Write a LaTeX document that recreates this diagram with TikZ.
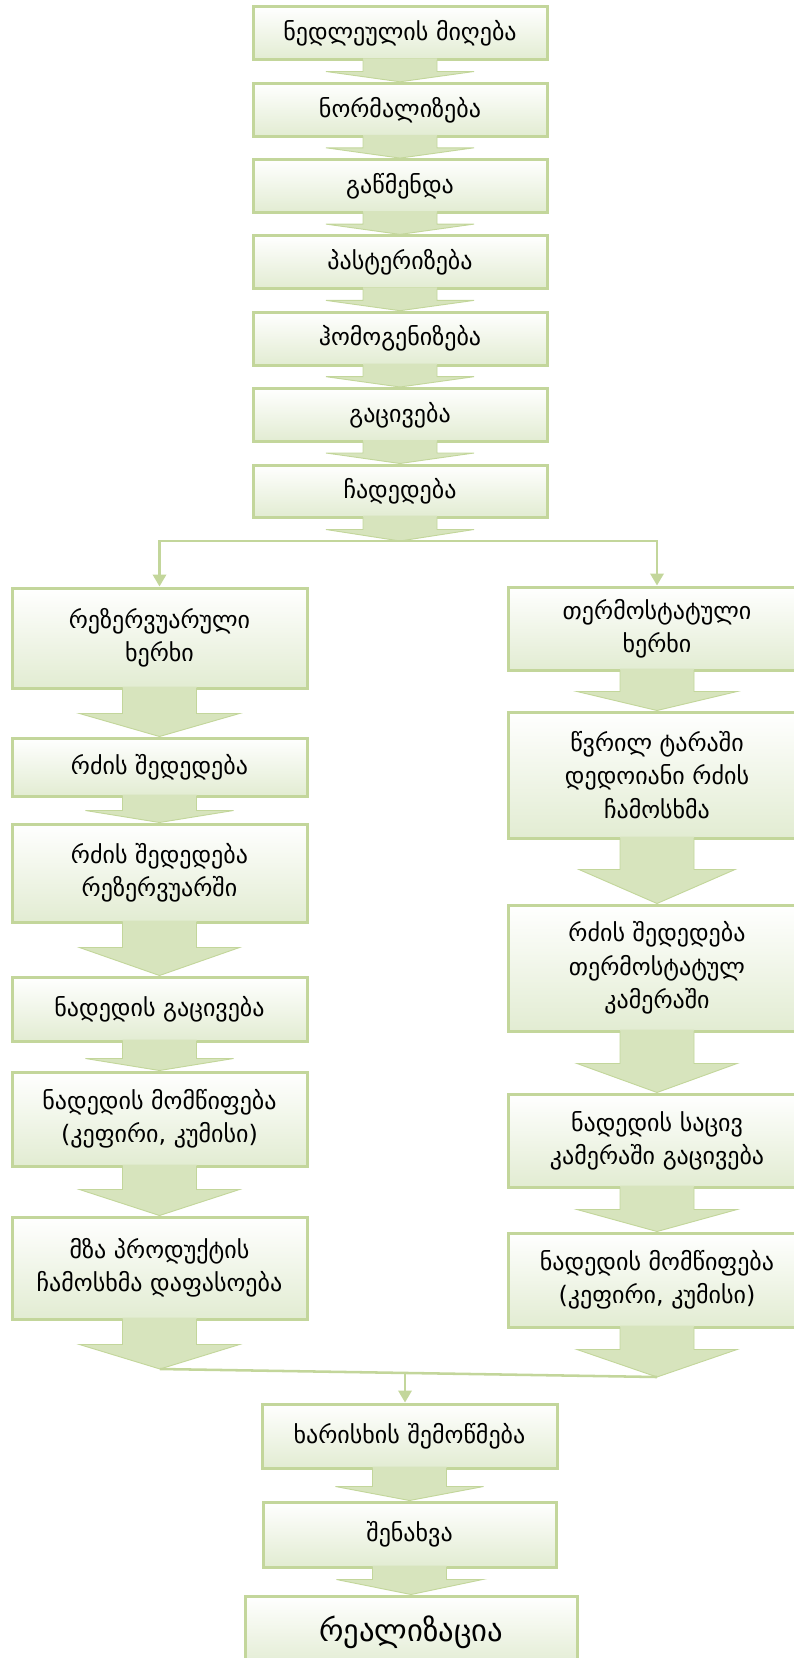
\documentclass[tikz,border=0pt]{standalone}
\usepackage{fontspec}
\setmainfont{DejaVu Sans}
\usetikzlibrary{calc,arrows.meta,shadows}
\definecolor{bord}{RGB}{195,214,155}
\definecolor{arrfill}{RGB}{215,228,189}
\definecolor{boxbot}{RGB}{226,236,210}
\tikzset{
 stepbox/.style={draw=bord, line width=2.25pt, top color=white, bottom color=boxbot, align=center, inner sep=0pt, font=\fontsize{18}{25}\selectfont},
 bigbox/.style={stepbox, font=\fontsize{23}{28}\selectfont, drop shadow={shadow xshift=1.5pt, shadow yshift=-1.5pt, fill=black!50, opacity=0.6}},
 conn/.style={draw=bord, line width=1.9pt},
 tipconn/.style={conn, -{Triangle[length=9pt,width=10pt]}},
 arrbody/.style={fill=arrfill},
 arredge/.style={draw=bord, line width=0.7pt, line join=miter},
}
% box: name, cx, cy, w, h, text
\newcommand{\bx}[6]{\node[stepbox, minimum width=#4*0.75pt, minimum height=#5*0.75pt] (#1) at (#2,#3) {#6};}
% block arrow: from node, to point, head base offset (px), head half width (px)
\newcommand{\barr}[4]{%
 \fill[arrbody] ($(#1.south)+(-37,-3)$) -- ($(#1.south)+(-37,#3)$) -- ($(#1.south)+(-#4,#3)$) -- (#2) -- ($(#1.south)+(#4,#3)$) -- ($(#1.south)+(37,#3)$) -- ($(#1.south)+(37,-3)$) -- cycle;
 \draw[arredge] ($(#1.south)+(-37,-1.5)$) -- ($(#1.south)+(-37,#3)$) -- ($(#1.south)+(-#4,#3)$) -- (#2) -- ($(#1.south)+(#4,#3)$) -- ($(#1.south)+(37,#3)$) -- ($(#1.south)+(37,-1.5)$);}
\begin{document}
\begin{tikzpicture}[x=0.75pt,y=-0.75pt]
\useasboundingbox (0,0) rectangle (793,1658);
% main chain
\bx{B1}{400}{33.5}{294}{53}{ნედლეულის მიღება}
\bx{B2}{400}{109.8}{294}{53}{ნორმალიზება}
\bx{B3}{400}{186.1}{294}{53}{გაწმენდა}
\bx{B4}{400}{262.4}{294}{53}{პასტერიზება}
\bx{B5}{400}{338.7}{294}{53}{ჰომოგენიზება}
\bx{B6}{400}{415}{294}{53}{გაცივება}
\bx{B7}{400}{491}{294}{52}{ჩადედება}
% left column
\bx{L1}{159.5}{638}{295}{100}{რეზერვუარული\\ხერხი}
\bx{L2}{159.5}{767}{295}{58}{რძის შედედება}
\bx{L3}{159.5}{873}{295}{98}{რძის შედედება\\რეზერვუარში}
\bx{L4}{159.5}{1009}{295}{64}{ნადედის გაცივება}
\bx{L5}{159.5}{1119}{295}{94}{ნადედის მომწიფება\\(კეფირი, კუმისი)}
\bx{L6}{159.5}{1268}{295}{102}{მზა პროდუქტის\\ჩამოსხმა დაფასოება}
% right column
\bx{R1}{657}{628.5}{298}{83}{თერმოსტატული\\ხერხი}
\bx{R2}{657}{775}{298}{126}{წვრილ ტარაში\\დედოიანი რძის\\ჩამოსხმა}
\bx{R3}{657}{968}{298}{126}{რძის შედედება\\თერმოსტატულ\\კამერაში}
\bx{R4}{657}{1140.5}{298}{93}{ნადედის საცივ\\კამერაში გაცივება}
\bx{R5}{657}{1280}{298}{94}{ნადედის მომწიფება\\(კეფირი, კუმისი)}
% bottom
\bx{Q}{409.5}{1436}{295}{64}{ხარისხის შემოწმება}
\bx{S}{409.5}{1534.5}{293}{65}{შენახვა}
\node[bigbox, minimum width=332*0.75pt, minimum height=72*0.75pt] (Rl) at (411,1632) {რეალიზაცია};
% block arrows, main chain
\barr{B1}{B2.north}{10}{74}
\barr{B2}{B3.north}{10}{74}
\barr{B3}{B4.north}{10}{74}
\barr{B4}{B5.north}{10}{74}
\barr{B5}{B6.north}{10}{74}
\barr{B6}{B7.north}{10}{74}
\coordinate (brc) at (400,541);
\barr{B7}{brc}{11}{74}
\draw[tipconn] (brc) -| (L1.north);
\draw[tipconn] (brc) -| (R1.north);
% left arrows
\barr{L1}{L2.north}{24}{80}
\barr{L2}{L3.north}{13}{74}
\barr{L3}{L4.north}{24}{80}
\barr{L4}{L5.north}{16}{74}
\barr{L5}{L6.north}{22}{80}
% right arrows
\barr{R1}{R2.north}{20}{80}
\barr{R2}{R3.north}{30}{78}
\barr{R3}{R4.north}{31}{80}
\barr{R4}{R5.north}{21}{80}
% merge
\coordinate (mL) at (160,1369);
\coordinate (mR) at (657,1377);
\barr{L6}{mL}{24}{80}
\barr{R5}{mR}{21}{80}
\draw[conn] (mL) -- (mR);
\coordinate (mM) at ($(mL)!0.493!(mR)$);
\draw[tipconn] (mM) -- (mM |- Q.north);
\barr{Q}{S.north}{17}{74}
\barr{S}{Rl.north}{11}{73}
\end{tikzpicture}
\end{document}
